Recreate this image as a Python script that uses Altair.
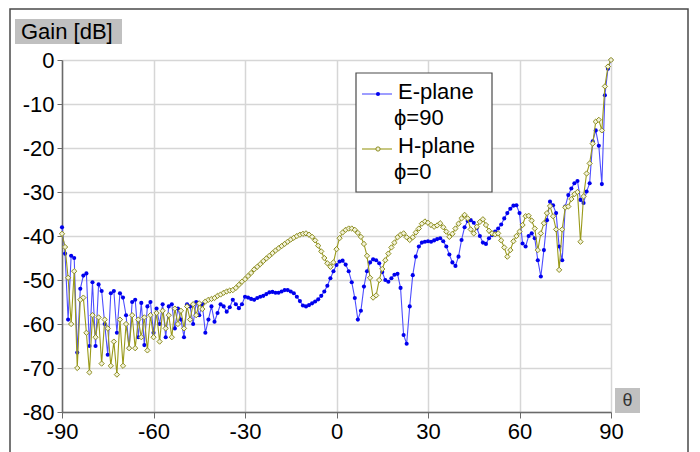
import altair as alt
import pandas as pd

# ---------------- data ----------------
theta = list(range(-90, 91))

e_plane = [
    # -90 .. -81
    -38, -44, -59, -44.5, -45, -66.5, -52, -49, -48.5, -65,
    # -80 .. -71
    -50.5, -65, -51, -52.5, -60, -67, -53, -52.5, -62, -53,
    # -70 .. -61
    -54, -58, -65.5, -55, -54.5, -63, -55.2, -64.8, -56, -55,
    # -60 .. -51
    -62, -56.5, -60, -55.5, -63, -56, -55.5, -61, -56.5, -59,
    # -50 .. -41
    -63, -55.5, -56, -60, -55, -58, -55.5, -62, -59, -56,
    # -40 .. -31
    -59.5, -57.5, -55.5, -56, -57.2, -56.2, -54.5, -55.5, -56.4, -55.5,
    # -30 .. -21
    -53.8, -54, -54.3, -54.5, -54.1, -53.8, -53.6, -53.2, -52.8, -52.7,
    # -20 .. -11
    -52.9, -52.9, -52.6, -52.3, -52.3, -52.6, -53, -53.8, -54.8, -55.8,
    # -10 .. -1
    -56, -55.7, -55.3, -54.9, -54.4, -53.6, -52.6, -51.3, -49.6, -48,
    # 0 .. 9
    -46.6, -45.8, -45.6, -46.5, -48, -50.5, -54.1, -59, -57, -51.5,
    # 10 .. 19
    -48, -46, -45.3, -45.5, -46.2, -48.2, -50, -50.4, -49.6, -48.8,
    # 20 .. 29
    -48.6, -51.8, -62.5, -64.5, -56, -48.9, -44.7, -42.4, -41.5, -41.3,
    # 30 .. 39
    -41.2, -41.3, -41, -40.7, -40.5, -41.2, -42.4, -44.2, -46, -46.8,
    # 40 .. 49
    -44.7, -40.9, -38, -36.6, -36.4, -37, -38.2, -40, -41.5, -41.8,
    # 50 .. 59
    -40.5, -39.8, -39, -38.3, -37.4, -36, -34.8, -33.8, -33.1, -33,
    # 60 .. 69
    -34.8, -41.7, -42.4, -40, -39.4, -40.5, -45.5, -49.2, -43.2, -36.4,
    # 70 .. 79
    -32.2, -33, -34.8, -42.4, -45.5, -33.3, -30.7, -29.2, -28, -27.5,
    # 80 .. 89
    -31.8, -32.5, -29.9, -28, -18.5, -16, -19.5, -28.2, -8, -2,
    # 90
    0,
]

h_plane = [
    # -90 .. -81
    -39.5, -42.5, -49.5, -60, -48, -70, -54.5, -54, -62, -71,
    # -80 .. -71
    -58, -63, -58.5, -69, -59, -61, -69.5, -64, -71.5, -59,
    # -70 .. -61
    -69.5, -60, -65.5, -58, -65.5, -59, -63, -58.5, -66, -58,
    # -60 .. -51
    -63, -57.5, -64, -57, -61, -58, -63, -56.5, -60, -57,
    # -50 .. -41
    -61, -56, -59, -55.5, -58, -55.3, -56.6, -54.9, -54.5, -54.3,
    # -40 .. -31
    -54.1, -53.6, -53.3, -52.9, -52.6, -52.4, -52.3, -51.8, -51.1, -50.4,
    # -30 .. -21
    -49.8, -49.1, -48.4, -47.6, -47, -46.4, -45.7, -45.1, -44.5, -43.9,
    # -20 .. -11
    -43.3, -42.8, -42.3, -41.8, -41.3, -40.8, -40.4, -40.0, -39.7, -39.5,
    # -10 .. -1
    -39.4, -39.7, -40.2, -41, -42.2, -43.5, -45, -46.2, -47, -46,
    # 0 .. 9
    -43, -40.5, -39.2, -38.6, -38.3, -38.3, -38.6, -39.3, -40.2, -41.8,
    # 10 .. 19
    -44.5, -49.5, -54, -53.5, -50, -47.5, -45.5, -44, -42.6, -41.5,
    # 20 .. 29
    -40.3, -39.7, -39.4, -40.3, -40.9, -40.3, -39.2, -38.3, -37.2, -36.7,
    # 30 .. 39
    -37, -37.5, -37.9, -37.6, -37.1, -38, -39, -40.2, -39.5, -38.3,
    # 40 .. 49
    -37.2, -36, -35.2, -36, -38.5, -39.4, -37.9, -36.8, -36.2, -37.5,
    # 50 .. 59
    -38.8, -39.4, -39.6, -39.4, -41, -42.6, -44.7, -43.2, -41.2, -40,
    # 60 .. 69
    -39, -37.5, -35.5, -35.4, -36.5, -38.3, -43.2, -39.4, -37.1, -34.8,
    # 70 .. 79
    -33.2, -35.5, -38.5, -47.7, -38.5, -33.5, -33.3, -31.6, -30.5, -30,
    # 80 .. 89
    -41.3, -31, -25.8, -23.5, -19, -14, -13.6, -16, -6, -1.5,
    # 90
    0,
]

x_ticks = [-90, -60, -30, 0, 30, 60, 90]
y_ticks = [-80, -70, -60, -50, -40, -30, -20, -10, 0]
legend_labels = ["E-plane", "\u03d5=90", "H-plane", "\u03d5=0"]
y_title = "Gain [dB]"
x_title = "\u03b8"

assert len(e_plane) == len(theta) and len(h_plane) == len(theta)

df = pd.DataFrame({
    "theta": theta + theta,
    "gain": e_plane + h_plane,
    "series": ["E"] * len(theta) + ["H"] * len(theta),
})

FONT = "Liberation Sans"
BLUE_LINE = "#4d4dff"
BLUE_PT = "#0000ee"
OLIVE_LINE = "#9a9a1a"
OLIVE_PT = "#8c8c20"
OLIVE_FILL = "#f2f2d8"

xs = alt.Scale(domain=[-90, 90], nice=False, zero=False)
ys = alt.Scale(domain=[-80, 0], nice=False, zero=False)

common_axis = dict(
    title=None, grid=True, gridColor="#d6d6d6", gridWidth=1.5,
    domainColor="#6a6a6a", domainWidth=1.5, tickColor="#6a6a6a", tickWidth=1,
    labelFont=FONT, labelFontSize=22, labelColor="#000000",
    labelExpr="'' + datum.value", labelFlush=False, labelOverlap=False,
)
xaxis = alt.Axis(values=x_ticks, tickSize=6, labelPadding=3, **common_axis)
yaxis = alt.Axis(values=y_ticks, tickSize=5, labelPadding=3, **common_axis)

base = alt.Chart(df)
X = alt.X("theta:Q", scale=xs, axis=xaxis)
Y = alt.Y("gain:Q", scale=ys, axis=yaxis)

e_data = base.transform_filter("datum.series == 'E'")
h_data = base.transform_filter("datum.series == 'H'")

e_line = e_data.mark_line(color=BLUE_LINE, strokeWidth=1.1).encode(x=X, y=Y)
e_pts = e_data.mark_circle(color=BLUE_PT, size=17, opacity=1).encode(x="theta:Q", y="gain:Q")
h_line = h_data.mark_line(color=OLIVE_LINE, strokeWidth=1.1).encode(x="theta:Q", y="gain:Q")
h_pts = h_data.mark_point(shape="diamond", size=28, fill=OLIVE_FILL, stroke=OLIVE_PT,
                          strokeWidth=1, opacity=1, filled=True).encode(x="theta:Q", y="gain:Q")

one = pd.DataFrame({"k": [0]})
deco = alt.Chart(one)

# outer frame
frame = deco.mark_rect(fill=None, stroke="#4a4a4a", strokeWidth=1.5).encode(
    x=alt.value(-52), x2=alt.value(626), y=alt.value(-51), y2=alt.value(400))

# y title box
ybox = deco.mark_rect(fill="#c0c0c0").encode(
    x=alt.value(-47), x2=alt.value(60), y=alt.value(-41), y2=alt.value(-16))
ytxt = deco.mark_text(text=y_title, font=FONT, fontSize=22, align="left",
                      baseline="middle", color="#000").encode(
    x=alt.value(-41), y=alt.value(-28))

# x title box
xbox = deco.mark_rect(fill="#c0c0c0").encode(
    x=alt.value(553), x2=alt.value(578), y=alt.value(328), y2=alt.value(353))
xtxt = deco.mark_text(text=x_title, font=FONT, fontSize=18, align="center",
                      baseline="middle", color="#333").encode(
    x=alt.value(565.5), y=alt.value(340.5))

# legend
lbox = deco.mark_rect(fill="white", stroke="#4a4a4a", strokeWidth=1.2).encode(
    x=alt.value(294), x2=alt.value(430), y=alt.value(13), y2=alt.value(132))
l_eline = deco.mark_rule(color=BLUE_LINE, strokeWidth=1.1).encode(
    x=alt.value(300), x2=alt.value(330), y=alt.value(34))
l_ept = deco.mark_circle(color=BLUE_PT, size=17, opacity=1).encode(
    x=alt.value(316), y=alt.value(34))
l_hline = deco.mark_rule(color=OLIVE_LINE, strokeWidth=1.1).encode(
    x=alt.value(300), x2=alt.value(330), y=alt.value(89))
l_hpt = deco.mark_point(shape="circle", size=18, fill=OLIVE_FILL, stroke=OLIVE_PT,
                        strokeWidth=1, opacity=1, filled=True).encode(
    x=alt.value(316), y=alt.value(89))
legend_pos = [(336, 32), (332, 58), (336, 86), (332, 112)]
ltexts = [
    deco.mark_text(text=t, font=FONT, fontSize=22, align="left", baseline="middle",
                   color="#000").encode(x=alt.value(px), y=alt.value(py))
    for t, (px, py) in zip(legend_labels, legend_pos)
]

chart = alt.layer(
    e_line, e_pts, h_line, h_pts,
    frame, ybox, ytxt, xbox, xtxt,
    lbox, l_eline, l_ept, l_hline, l_hpt, *ltexts,
).properties(
    width=549, height=352,
    autosize=alt.AutoSizeParams(type="none"),
    padding={"left": 54, "top": 52, "right": 80, "bottom": 40},
    background="white",
).configure_view(stroke=None)

chart.save("out.html", embed_options={"renderer": "svg", "actions": False})
